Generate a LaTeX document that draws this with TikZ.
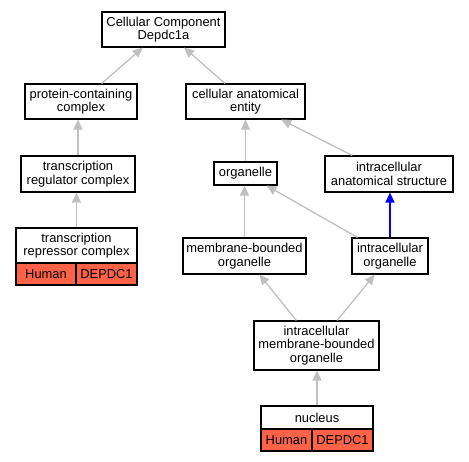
\documentclass[tikz,border=0pt]{standalone}
\usepackage{fontspec}
\setmainfont{Liberation Sans}
\usetikzlibrary{arrows.meta}
\definecolor{edgegray}{RGB}{192,192,192}
\definecolor{genered}{RGB}{255,99,71}
\begin{document}
\begin{tikzpicture}[x=1pt,y=-1pt,
  box/.style={draw=black, line width=1.1pt, fill=white, align=center, inner sep=0pt,
    font=\fontsize{12.9}{13.6}\selectfont},
  redcell/.style={box, fill=genered},
  isa/.style={draw=edgegray, line width=1.3pt, -{Triangle[length=10pt,width=9pt]}},
  partof/.style={draw=blue, line width=1.3pt, -{Triangle[length=10pt,width=9pt]}}]
\useasboundingbox (0,0) rectangle (469,461);
\node[box, minimum width=123pt, minimum height=35pt] (top) at (163.5,29.5) {Cellular Component\\Depdc1a};
\node[box, minimum width=112pt, minimum height=35pt] (pcc) at (81,101.5) {protein-containing\\complex};
\node[box, minimum width=119pt, minimum height=35pt] (cae) at (245.5,101.5) {cellular anatomical\\entity};
\node[box, minimum width=114pt, minimum height=36pt] (trc) at (78,174) {transcription\\regulator complex};
\node[box, minimum width=63pt, minimum height=23pt] (org) at (245.5,173.5) {organelle};
\node[box, minimum width=128pt, minimum height=36pt] (ias) at (389,174) {intracellular\\anatomical structure};
\node[box, minimum width=121pt, minimum height=35pt] (trpc) at (76.5,245.5) {transcription\\repressor complex};
\node[redcell, minimum width=60pt, minimum height=22pt] (trpch) at (46,274) {Human};
\node[redcell, minimum width=61pt, minimum height=22pt] (trpcg) at (106.5,274) {DEPDC1};
\node[box, minimum width=123pt, minimum height=36pt] (mbo) at (244.5,256) {membrane-bounded\\organelle};
\node[box, minimum width=76pt, minimum height=36pt] (io) at (390,256) {intracellular\\organelle};
\node[box, minimum width=125pt, minimum height=49pt] (imbo) at (316.5,345.5) {intracellular\\membrane-bounded\\organelle};
\node[box, minimum width=112pt, minimum height=23pt] (nuc) at (317,417.5) {nucleus};
\node[redcell, minimum width=51pt, minimum height=22pt] (nuch) at (286.5,440) {Human};
\node[redcell, minimum width=61pt, minimum height=22pt] (nucg) at (342.5,440) {DEPDC1};
\draw[isa] (pcc) -- (top);
\draw[isa] (cae) -- (top);
\draw[isa] (trc.north) -- (pcc.south -| trc.north);
\draw[isa] (org) -- (cae);
\draw[isa] (ias) -- (cae);
\draw[isa] (trpc.north) -- (trc.south -| trpc.north);
\draw[isa] (mbo.north) -- (org.south -| mbo.north);
\draw[isa] (io) -- (org);
\draw[partof] (io.north) -- (ias.south -| io.north);
\draw[isa] (imbo) -- (mbo);
\draw[isa] (imbo) -- (io);
\draw[isa] (nuc.north) -- (imbo.south -| nuc.north);
\end{tikzpicture}
\end{document}
